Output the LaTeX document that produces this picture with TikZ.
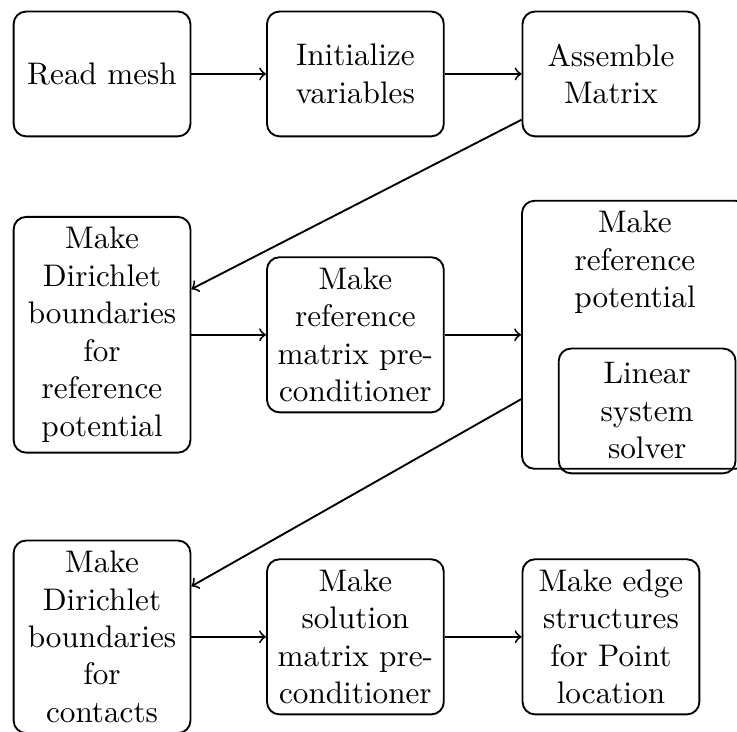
\documentclass[tikz,border=0pt]{standalone}
\begin{document}
\begin{tikzpicture}[x=1pt,y=1pt, line width=0.6pt,
  block/.style={draw, rounded corners, text width=5em, align=center, minimum height=4em},
  bigbox/.style={draw, rounded corners, minimum width=72.4pt, minimum height=85.9pt},
  plain/.style={text width=5em, align=center},
  arr/.style={->}]
\useasboundingbox (0,0) rectangle (236.2,-234.3);
% row 1
\node[block] (read) at (32.7,-23.7) {Read mesh};
\node[block] (init) at (113.9,-23.7) {Initialize variables};
\node[block] (asm)  at (195.8,-23.7) {Assemble Matrix};
% row 2
\node[block] (dir1) at (32.7,-107.3) {Make Dirichlet boundaries for reference potential};
\node[block] (pre1) at (113.9,-107.3) {Make reference matrix preconditioner};
\node[bigbox] (refpot) at (203.5,-107.3) {};
\node[plain, anchor=north] (refpott) at (refpot.north) {Make reference potential};
\node[block] (lin) at (207.4,-131.7) {Linear system solver};
% row 3
\node[block] (dir2) at (32.7,-204.1) {Make Dirichlet boundaries for contacts};
\node[block] (pre2) at (113.9,-204.1) {Make solution matrix preconditioner};
\node[block] (edge) at (195.8,-204.1) {Make edge structures for Point location};
% connectors
\draw[arr] (read) -- (init);
\draw[arr] (init) -- (asm);
\draw[arr] (asm) -- (dir1);
\draw[arr] (dir1) -- (pre1);
\draw[arr] (pre1) -- (refpot);
\draw[arr] (refpot) -- (dir2);
\draw[arr] (dir2) -- (pre2);
\draw[arr] (pre2) -- (edge);
\end{tikzpicture}
\end{document}
